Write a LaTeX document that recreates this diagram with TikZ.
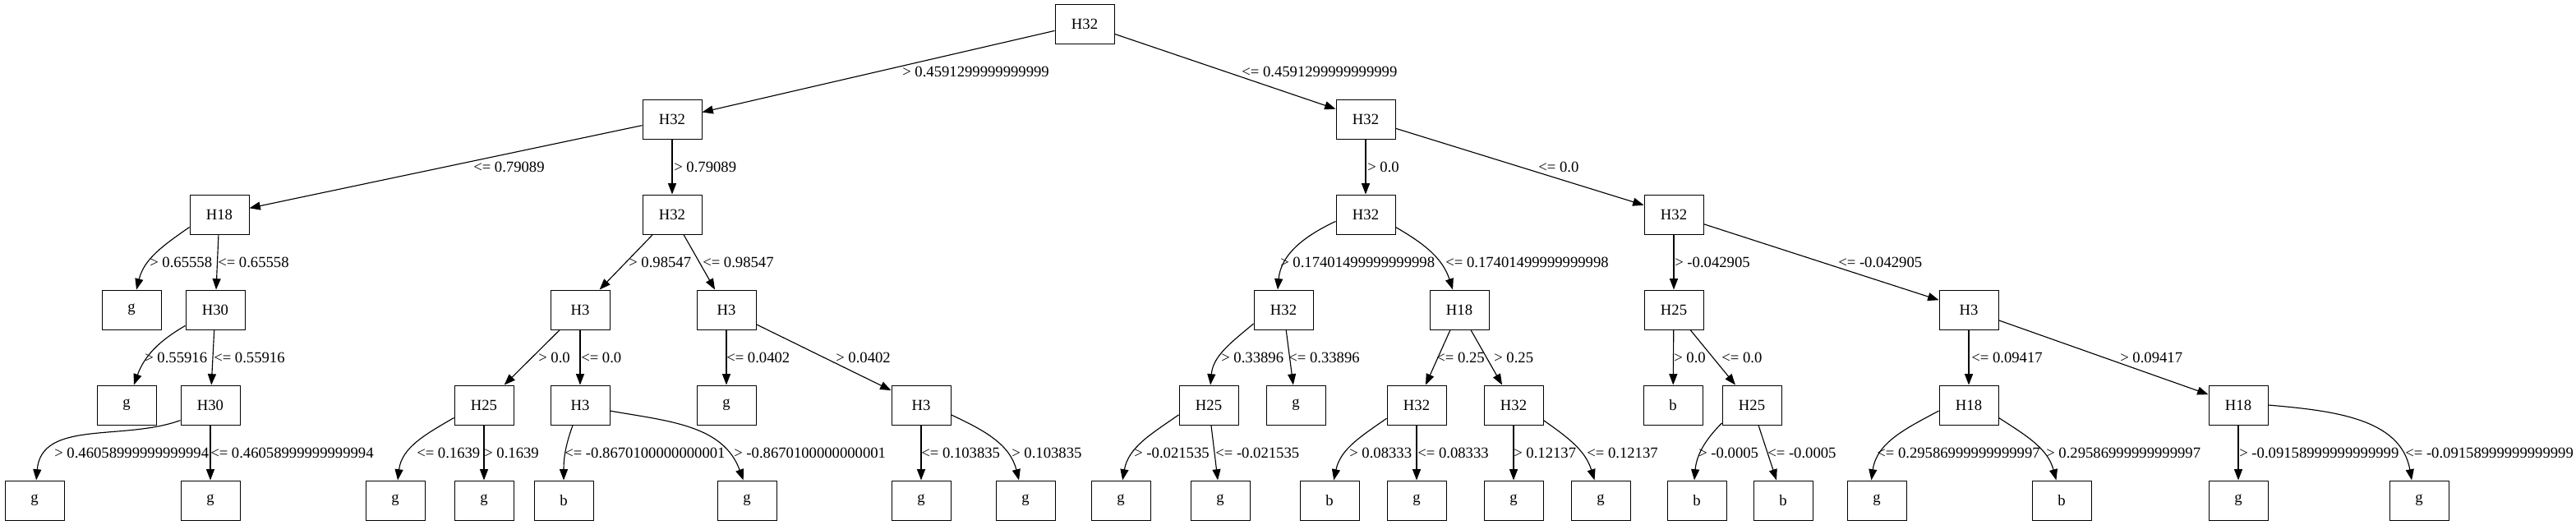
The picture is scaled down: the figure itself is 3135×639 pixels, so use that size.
\documentclass[tikz,border=0pt]{standalone}
\usepackage{fontspec}
\setmainfont{Liberation Serif}
\usetikzlibrary{arrows.meta}
\tikzset{
	% ------- every something
	every node/.style={
		font=\fontsize{14}{17}\selectfont,
	},
	% ------- custom
	testbox/.style={
		draw, rectangle,
		minimum width=54pt, minimum height=36pt,
		inner sep=0pt, line width=0.75pt,
	},
	branch/.style={
		-{Triangle[length=10pt, width=7.5pt]},
		line width=0.85pt,
	},
	condition/.style={
		anchor=west, inner sep=0pt,
	},
}

\begin{document}
\begin{tikzpicture}[x=0.75pt, y=0.75pt]

% canvas %{{{2

	\fill[white] (0,0) rectangle (3135,-639);
	\useasboundingbox (0,0) rectangle (3135,-639);

% tests and leaves %{{{2

	\node[testbox] (root) at (1320,-29) {H32};

	\node[testbox] (n0) at (818,-145) {H32};
	\node[testbox] (n1) at (1662,-145) {H32};

	\node[testbox] (n00) at (267,-261) {H18};
	\node[testbox] (n01) at (818,-261) {H32};
	\node[testbox] (n10) at (1662,-261) {H32};
	\node[testbox] (n11) at (2037,-261) {H32};

	\node[testbox] (n000) at (160,-377) {g};
	\node[testbox] (n001) at (262,-377) {H30};
	\node[testbox] (n010) at (706,-377) {H3};
	\node[testbox] (n011) at (884,-377) {H3};
	\node[testbox] (n100) at (1562,-377) {H32};
	\node[testbox] (n101) at (1776,-377) {H18};
	\node[testbox] (n110) at (2037,-377) {H25};
	\node[testbox] (n111) at (2396,-377) {H3};

	\node[testbox] (n0010) at (154,-493) {g};
	\node[testbox] (n0011) at (256,-493) {H30};
	\node[testbox] (n0100) at (589,-493) {H25};
	\node[testbox] (n0101) at (706,-493) {H3};
	\node[testbox] (n0110) at (884,-493) {g};
	\node[testbox] (n0111) at (1121,-493) {H3};
	\node[testbox] (n1000) at (1471,-493) {H25};
	\node[testbox] (n1001) at (1577,-493) {g};
	\node[testbox] (n1010) at (1724,-493) {H32};
	\node[testbox] (n1011) at (1842,-493) {H32};
	\node[testbox] (n1100) at (2036,-493) {b};
	\node[testbox] (n1101) at (2132,-493) {H25};
	\node[testbox] (n1110) at (2396,-493) {H18};
	\node[testbox] (n1111) at (2724,-493) {H18};

	\node[testbox] (n00110) at (42,-609) {g};
	\node[testbox] (n00111) at (256,-609) {g};
	\node[testbox] (n01000) at (481,-609) {g};
	\node[testbox] (n01001) at (589,-609) {g};
	\node[testbox] (n01010) at (686,-609) {b};
	\node[testbox] (n01011) at (909,-609) {g};
	\node[testbox] (n01110) at (1121,-609) {g};
	\node[testbox] (n01111) at (1248,-609) {g};
	\node[testbox] (n10000) at (1364,-609) {g};
	\node[testbox] (n10001) at (1485,-609) {g};
	\node[testbox] (n10100) at (1618,-609) {b};
	\node[testbox] (n10101) at (1724,-609) {g};
	\node[testbox] (n10110) at (1842,-609) {g};
	\node[testbox] (n10111) at (1948,-609) {g};
	\node[testbox] (n11010) at (2065,-609) {b};
	\node[testbox] (n11011) at (2170,-609) {b};
	\node[testbox] (n11100) at (2284,-609) {g};
	\node[testbox] (n11101) at (2509,-609) {b};
	\node[testbox] (n11110) at (2724,-609) {g};
	\node[testbox] (n11111) at (2944,-609) {g};

% branches %{{{2

	\draw[branch] (root) -- (n0);
	\draw[branch] (root) -- (n1);

	\draw[branch] (n0) -- (n00);
	\draw[branch] (n0) -- (n01);
	\draw[branch] (n1) -- (n10);
	\draw[branch] (n1) -- (n11);

	\draw[branch] (n00.203) to[out=215, in=76] (n000);
	\draw[branch] (n00) -- (n001);
	\draw[branch] (n01) -- (n010);
	\draw[branch] (n01) -- (n011);
	\draw[branch] (n10.193) to[out=205, in=85] (n100.106);
	\draw[branch] (n10.337) to[out=330, in=108] (n101);
	\draw[branch] (n11) -- (n110);
	\draw[branch] (n11) -- (n111);

	\draw[branch] (n001.208) to[out=210, in=70] (n0010);
	\draw[branch] (n001) -- (n0011);
	\draw[branch] (n010) -- (n0100);
	\draw[branch] (n010) -- (n0101);
	\draw[branch] (n011) -- (n0110);
	\draw[branch] (n011) -- (n0111);
	\draw[branch] (n100.205) to[out=220, in=85] (n1000);
	\draw[branch] (n100) -- (n1001);
	\draw[branch] (n101) -- (n1010);
	\draw[branch] (n101) -- (n1011);
	\draw[branch] (n110) -- (n1100);
	\draw[branch] (n110) -- (n1101);
	\draw[branch] (n111) -- (n1110);
	\draw[branch] (n111) -- (n1111);

	\draw[branch] (n0011.207) to[out=200, in=85] (n00110);
	\draw[branch] (n0011) -- (n00111);
	\draw[branch] (n0100.203) to[out=210, in=83] (n01000);
	\draw[branch] (n0100) -- (n01001);
	\draw[branch] (n0101) to[out=250, in=90] (n01010);
	\draw[branch] (n0101.349) to[out=350, in=110] (n01011.100);
	\draw[branch] (n0111) -- (n01110);
	\draw[branch] (n0111.342) to[out=335, in=104] (n01111.108);
	\draw[branch] (n1000.198) to[out=215, in=80] (n10000.85);
	\draw[branch] (n1000) -- (n10001);
	\draw[branch] (n1010.204) to[out=215, in=78] (n10100);
	\draw[branch] (n1010) -- (n10101);
	\draw[branch] (n1011) -- (n10110);
	\draw[branch] (n1011.333) to[out=325, in=107] (n10111);
	\draw[branch] (n1101.211) to[out=225, in=85] (n11010.97);
	\draw[branch] (n1101) -- (n11011);
	\draw[branch] (n1110.191) to[out=208, in=82] (n11100.105);
	\draw[branch] (n1110.337) to[out=327, in=105] (n11101);
	\draw[branch] (n1111) -- (n11110);
	\draw[branch] (n1111.east) to[out=355, in=100] (n11111.110);

% branch labels %{{{2

	\node[condition] (l0) at (1098,-87) {> 0.4591299999999999};
	\node[condition] (l1) at (1511,-87) {<= 0.4591299999999999};

	\node[condition] (l00) at (576,-203) {<= 0.79089};
	\node[condition] (l01) at (820,-203) {> 0.79089};
	\node[condition] (l10) at (1664,-203) {> 0.0};
	\node[condition] (l11) at (1872,-203) {<= 0.0};

	\node[condition] (l000) at (182,-319) {> 0.65558};
	\node[condition] (l001) at (265,-319) {<= 0.65558};
	\node[condition] (l010) at (765,-319) {> 0.98547};
	\node[condition] (l011) at (855,-319) {<= 0.98547};
	\node[condition] (l100) at (1558,-319) {> 0.17401499999999998};
	\node[condition] (l101) at (1759,-319) {<= 0.17401499999999998};
	\node[condition] (l110) at (2038,-319) {> -0.042905};
	\node[condition] (l111) at (2237,-319) {<= -0.042905};

	\node[condition] (l0010) at (176,-435) {> 0.55916};
	\node[condition] (l0011) at (260,-435) {<= 0.55916};
	\node[condition] (l0100) at (655,-435) {> 0.0};
	\node[condition] (l0101) at (707,-435) {<= 0.0};
	\node[condition] (l0110) at (884,-435) {<= 0.0402};
	\node[condition] (l0111) at (1017,-435) {> 0.0402};
	\node[condition] (l1000) at (1486,-435) {> 0.33896};
	\node[condition] (l1001) at (1568,-435) {<= 0.33896};
	\node[condition] (l1010) at (1748,-435) {<= 0.25};
	\node[condition] (l1011) at (1818,-435) {> 0.25};
	\node[condition] (l1100) at (2037,-435) {> 0.0};
	\node[condition] (l1101) at (2095,-435) {<= 0.0};
	\node[condition] (l1110) at (2399,-435) {<= 0.09417};
	\node[condition] (l1111) at (2580,-435) {> 0.09417};

	\node[condition] (l00110) at (66,-551) {> 0.46058999999999994};
	\node[condition] (l00111) at (256,-551) {<= 0.46058999999999994};
	\node[condition] (l01000) at (507,-551) {<= 0.1639};
	\node[condition] (l01001) at (589,-551) {> 0.1639};
	\node[condition] (l01010) at (687,-551) {<= -0.8670100000000001};
	\node[condition] (l01011) at (893,-551) {> -0.8670100000000001};
	\node[condition] (l01110) at (1121,-551) {<= 0.103835};
	\node[condition] (l01111) at (1231,-551) {> 0.103835};
	\node[condition] (l10000) at (1380,-551) {> -0.021535};
	\node[condition] (l10001) at (1479,-551) {<= -0.021535};
	\node[condition] (l10100) at (1642,-551) {> 0.08333};
	\node[condition] (l10101) at (1725,-551) {<= 0.08333};
	\node[condition] (l10110) at (1842,-551) {> 0.12137};
	\node[condition] (l10111) at (1931,-551) {<= 0.12137};
	\node[condition] (l11010) at (2067,-551) {> -0.0005};
	\node[condition] (l11011) at (2151,-551) {<= -0.0005};
	\node[condition] (l11100) at (2284,-551) {<= 0.29586999999999997};
	\node[condition] (l11101) at (2490,-551) {> 0.29586999999999997};
	\node[condition] (l11110) at (2725,-551) {> -0.09158999999999999};
	\node[condition] (l11111) at (2927,-551) {<= -0.09158999999999999};

% closing %{{{2

\end{tikzpicture}
\end{document}
